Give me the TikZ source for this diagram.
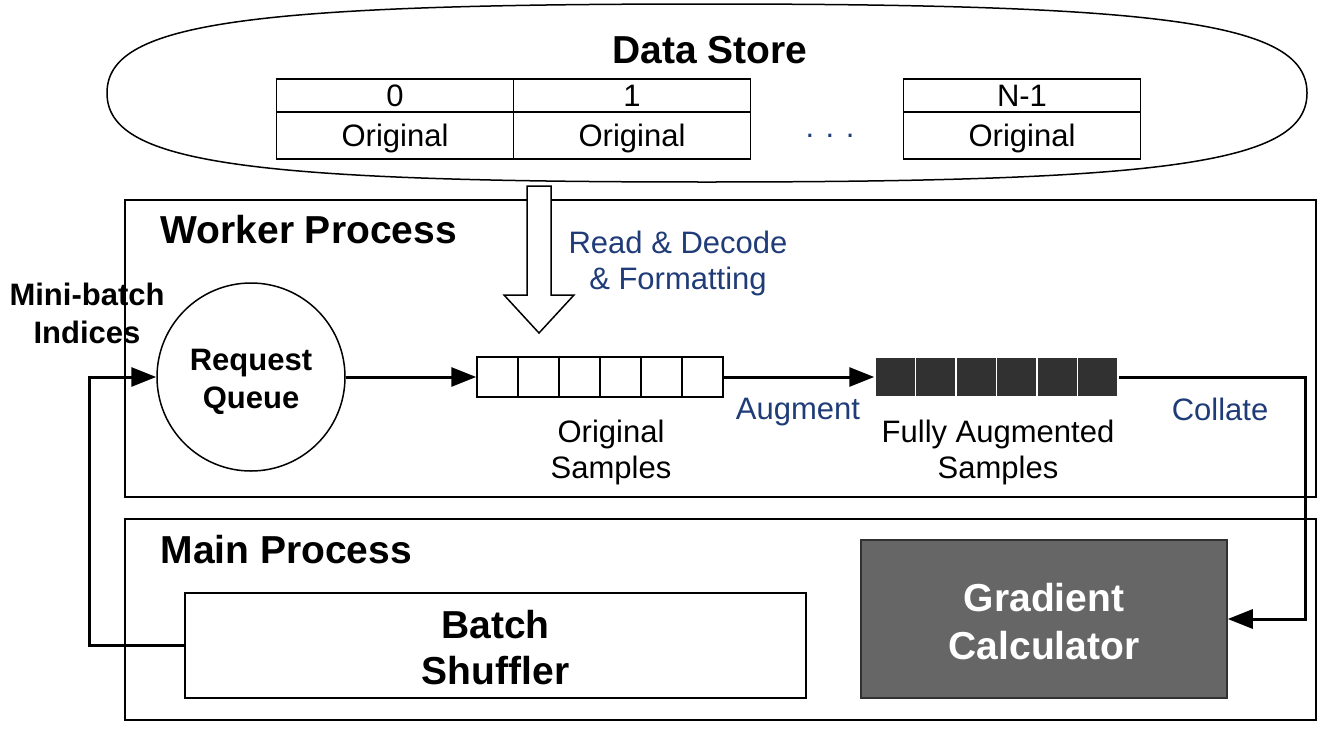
\documentclass[tikz,border=0pt]{standalone}
\usepackage{fontspec}
\setmainfont{Liberation Sans}
\usepackage{tikz}
\usetikzlibrary{positioning, arrows.meta}

\definecolor{noteblue}{HTML}{1F3C78}
\definecolor{darkcell}{HTML}{313131}
\definecolor{gradfill}{HTML}{666666}

\tikzset{
  box/.style={draw, line width=1.5pt, inner sep=0pt},
  flow/.style={line width=3pt, -{Triangle[length=25pt, width=19pt]}},
  bigbold/.style={font=\fontsize{39}{46}\selectfont\bfseries},
  midbold/.style={font=\fontsize{31}{38}\selectfont\bfseries},
  plain/.style={font=\fontsize{31}{36}\selectfont},
  note/.style={plain, text=noteblue}
}

\begin{document}
\begin{tikzpicture}[x=1pt, y=-1pt]
\useasboundingbox (0,0) rectangle (1324,728);

% data store
\coordinate (store) at (707,93);
\draw[line width=1.5pt] (107,93) .. controls (107,24) and (239,4) .. (707,4)
  .. controls (1175,4) and (1307,24) .. (1307,93)
  .. controls (1307,162) and (1175,182) .. (707,182)
  .. controls (239,182) and (107,162) .. cycle;
\node[bigbold, anchor=base] (storetitle) at (710,63) {Data Store};
\foreach \x/\idx [count=\i] in {395/0, 632/1, 1022/N-1} {
  \node[box, plain, minimum width=237pt, minimum height=33pt] (idx\i) at (\x,95.5) {\idx};
  \node[box, plain, text depth=0pt, minimum width=237pt, minimum height=47pt] (cell\i) at (\x,135.5) {Original};
}
\node[note, anchor=base] (dots) at (830,137) {. . .};

% worker process
\node[box, minimum width=1191pt, minimum height=297pt] (worker) at (720.5,348.5) {};
\node[bigbold, anchor=base west] (workertitle) at (157,243) {Worker Process};
\draw[line width=1.5pt, fill=white] (527,186) -- (551,186) -- (551,295) -- (574,295)
  -- (539,333) -- (504,295) -- (527,295) -- cycle;
\node[note, align=center] (readlbl) at (678,263) {Read \& Decode\\\& Formatting};
\node[midbold, align=center] (indexlbl) at (87,313) {Mini-batch\\Indices};
\node[box, circle, minimum size=188pt] (reqq) at (251,377) {};
\node[midbold, align=center] (reqqlbl) at (251,382) {Request\\Queue};

\foreach \i in {0,...,5}
  \node[box, minimum width=41pt, minimum height=40pt] (orig\i) at (497.5+41*\i,377) {};
\foreach \i in {0,...,5}
  \node[fill=darkcell, draw=white, line width=1.5pt, minimum width=40.5pt, minimum height=40pt] (aug\i) at (895.25+40.5*\i,377) {};

\node[plain, align=center] (origlbl) at (611,452) {Original\\Samples};
\node[plain, align=center] (auglbl) at (998,452) {Fully Augmented\\Samples};
\node[note] (augmentlbl) at (798,412) {Augment};
\node[note] (collatelbl) at (1220,409) {Collate};

% main process
\node[box, minimum width=1191pt, minimum height=201pt] (main) at (720.5,619.5) {};
\node[bigbold, anchor=base west] (maintitle) at (157,563) {Main Process};
\node[box, minimum width=621pt, minimum height=105pt] (shuffler) at (495.5,645.5) {};
\node[bigbold, align=center] (shufflerlbl) at (495.5,648) {Batch\\Shuffler};
\node[box, draw=darkcell, fill=gradfill, minimum width=366pt, minimum height=158pt] (grad) at (1044,619) {};
\node[text=white, align=center, font=\fontsize{39}{48}\selectfont\bfseries] (gradlbl) at (1044,622) {Gradient\\Calculator};

% connectors
\draw[flow] (reqq.east) -- (orig0.west);
\draw[flow] (orig5.east) -- (aug0.west);
\draw[flow] (aug5.east) -- ++(187,0) |- (grad.east);
\draw[flow] (shuffler.west) -- ++(-95,0) |- (reqq.west);
\end{tikzpicture}
\end{document}
